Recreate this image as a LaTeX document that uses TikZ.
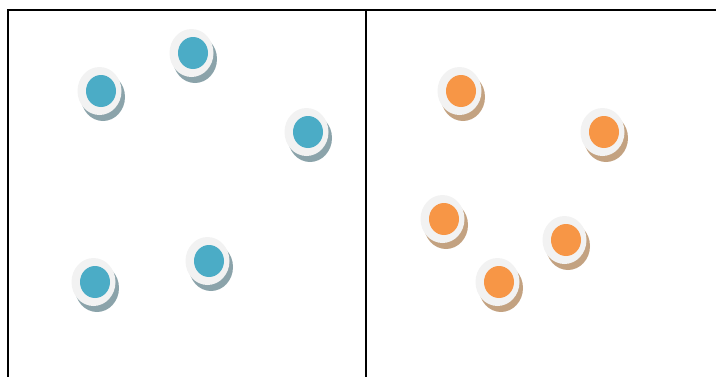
\documentclass[tikz,border=0pt]{standalone}
\usetikzlibrary{shapes.geometric}
\definecolor{dotblue}{HTML}{4BACC6}
\definecolor{dotorange}{HTML}{F79646}
\definecolor{ringgray}{HTML}{F2F2F2}
\definecolor{shblue}{HTML}{8BA3AA}
\definecolor{shorange}{HTML}{C3A281}
\tikzset{
  ring/.style={ellipse,fill=ringgray,minimum width=44pt,minimum height=48pt,inner sep=0pt},
  shadowring/.style={ellipse,minimum width=44pt,minimum height=48pt,inner sep=0pt},
  core/.style={ellipse,minimum width=30pt,minimum height=32pt,inner sep=0pt},
  frame/.style={line width=2pt,black}
}
\begin{document}
\begin{tikzpicture}[x=1pt,y=-1pt]
\useasboundingbox (0,0) rectangle (716,376);
\draw[frame] (8,390) -- (8,10) -- (730,10);
\draw[frame] (366,10) -- (366,390);
\foreach \n/\x/\y in {b1/101/91,b2/193/53,b3/308/132,b4/95/282,b5/209/261}{
  \node[shadowring,fill=shblue] (s\n) at (\x+2,\y+6) {};
  \node[ring] (r\n) at (\x-1.5,\y) {};
  \node[core,fill=dotblue] (\n) at (\x,\y) {};
}
\foreach \n/\x/\y in {o1/461/91,o2/604/132,o3/444/219,o4/566/240,o5/499/282}{
  \node[shadowring,fill=shorange] (s\n) at (\x+2,\y+6) {};
  \node[ring] (r\n) at (\x-1.5,\y) {};
  \node[core,fill=dotorange] (\n) at (\x,\y) {};
}
\end{tikzpicture}
\end{document}
